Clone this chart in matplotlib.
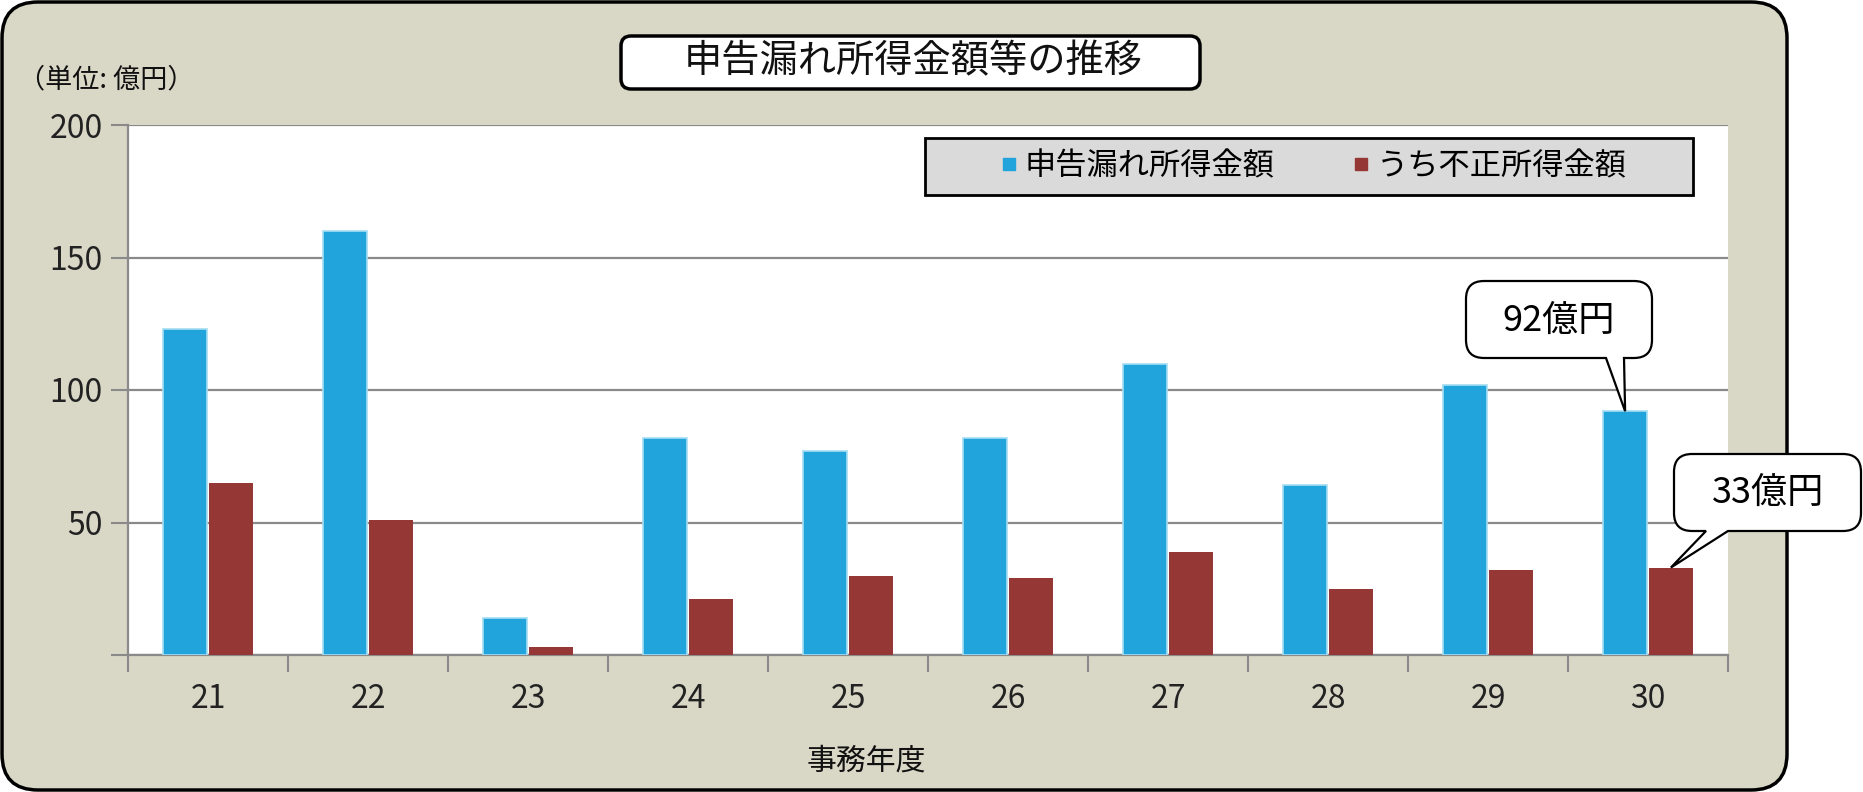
import matplotlib
matplotlib.use('Agg')
import matplotlib.pyplot as plt
from matplotlib.path import Path
from matplotlib.patches import PathPatch, Rectangle
from matplotlib.transforms import IdentityTransform
from matplotlib.lines import Line2D
import numpy as np

plt.rcParams['font.family'] = ['Noto Sans CJK JP', 'DejaVu Sans']

# ---------------- data ----------------
years = ['21', '22', '23', '24', '25', '26', '27', '28', '29', '30']
undeclared_income = [123, 160, 14, 82, 77, 82, 110, 64, 102, 92]
fraudulent_income = [65, 51, 3, 21, 30, 29, 39, 25, 32, 33]
series_names = ['申告漏れ所得金額', 'うち不正所得金額']
y_ticks = [0, 50, 100, 150, 200]
y_tick_labels = ['', '50', '100', '150', '200']
title_text = '申告漏れ所得金額等の推移'
unit_text = '（単位: 億円）'
x_label_text = '事務年度'
callout_texts = ['92億円', '33億円']

# ---------------- style ----------------
BLUE = '#21A3DC'
RED = '#943735'
BEIGE = '#D9D7C6'
GRID = '#8A8A8A'

W, H = 1863, 792
fig = plt.figure(figsize=(W / 100, H / 100), dpi=100)
fig.patch.set_facecolor('white')
ID = IdentityTransform()


def to_disp(pts):
    return [(x, H - y) for x, y in pts]


def rounded_path(L, T, R, B, r, wedge=None):
    """Rounded rectangle in top-left pixel coords, optional wedge on bottom edge."""
    v = [(L + r, B)]
    c = [Path.MOVETO]
    if wedge is not None:
        bx0, bx1, tx, ty = wedge
        v += [(bx0, B), (tx, ty), (bx1, B)]
        c += [Path.LINETO] * 3
    v += [(R - r, B), (R, B), (R, B - r), (R, T + r), (R, T), (R - r, T),
          (L + r, T), (L, T), (L, T + r), (L, B - r), (L, B), (L + r, B), (L + r, B)]
    c += [Path.LINETO, Path.CURVE3, Path.CURVE3, Path.LINETO, Path.CURVE3, Path.CURVE3,
          Path.LINETO, Path.CURVE3, Path.CURVE3, Path.LINETO, Path.CURVE3, Path.CURVE3,
          Path.CLOSEPOLY]
    return Path(to_disp(v), c)


# outer rounded background
fig.add_artist(PathPatch(rounded_path(2, 2, 1787, 790, 36), transform=ID,
                         facecolor=BEIGE, edgecolor='black', lw=2.5, zorder=-5))

# axes
ax = fig.add_axes([128 / W, 1 - 655 / H, 1600 / W, 530 / H])
ax.set_facecolor('white')
x = np.arange(len(years))
bw = 0.275
ax.bar(x - 0.143, undeclared_income, width=bw, color=BLUE, edgecolor='#A6DDF3',
       linewidth=1.2, zorder=3)
ax.bar(x + 0.143, fraudulent_income, width=bw, color=RED, edgecolor='none', zorder=3)

ax.set_xlim(-0.5, len(years) - 0.5)
ax.set_ylim(0, 200)
ax.set_yticks(y_ticks)
ax.set_yticklabels(y_tick_labels)
ax.set_xticks(x)
ax.set_xticklabels(years)
ax.set_xticks(np.arange(-0.5, len(years), 1.0), minor=True)
ax.tick_params(axis='x', which='major', length=0, pad=20, labelsize=23, colors='#222222')
ax.tick_params(axis='x', which='minor', length=12, width=1.5, color=GRID, direction='out')
ax.tick_params(axis='y', length=12, width=1.5, color=GRID, direction='out', pad=6,
               labelsize=23, labelcolor='#222222')
ax.grid(axis='y', color=GRID, lw=1.6, zorder=1)
ax.set_axisbelow(True)
for s in ['top', 'right']:
    ax.spines[s].set_visible(False)
for s in ['left', 'bottom']:
    ax.spines[s].set_color(GRID)
    ax.spines[s].set_linewidth(1.6)

# legend
ax.add_patch(Rectangle((925, H - 195), 768, 57, transform=ID, facecolor='#DADADA',
                       edgecolor='black', lw=2, clip_on=False, zorder=6))
handles = [Line2D([], [], marker='s', ls='', color=BLUE, markersize=8),
           Line2D([], [], marker='s', ls='', color=RED, markersize=8)]
leg = ax.legend(handles, series_names, loc='center', bbox_to_anchor=(1314, H - 166),
                bbox_transform=ID, frameon=False, ncol=2, fontsize=22.5,
                handlelength=0.5, handletextpad=0.25, columnspacing=2.5)
leg.set_zorder(7)

# title box
fig.add_artist(PathPatch(rounded_path(621, 36, 1200, 89, 10), transform=ID,
                         facecolor='white', edgecolor='black', lw=2.5, zorder=5))
fig.text(913, H - 62, title_text, transform=ID, ha='center', va='center',
         fontsize=27.5, color='#111111', zorder=6)

# unit label and x label
fig.text(18, H - 80, unit_text, transform=ID, ha='left', va='center',
         fontsize=19.5, color='#111111')
fig.text(866, H - 761, x_label_text, transform=ID, ha='center', va='center',
         fontsize=21.5, color='#111111')

# callouts
last = len(years) - 1
tip1 = ax.transData.transform((x[last] - 0.143, undeclared_income[last]))
tip2 = ax.transData.transform((x[last] + 0.143, fraudulent_income[last]))
tip1 = (tip1[0], H - tip1[1])
tip2 = (tip2[0], H - tip2[1])

fig.add_artist(PathPatch(rounded_path(1466, 281, 1652, 358, 18,
                                      wedge=(1606, 1624, tip1[0], tip1[1])),
                         transform=ID, facecolor='white', edgecolor='black', lw=1.6, zorder=8))
fig.text(1559, H - 321, callout_texts[0], transform=ID, ha='center', va='center',
         fontsize=26, color='black', zorder=9)

fig.add_artist(PathPatch(rounded_path(1674, 454, 1861, 531, 18,
                                      wedge=(1706, 1728, tip2[0], tip2[1])),
                         transform=ID, facecolor='white', edgecolor='black', lw=1.6, zorder=8))
fig.text(1768, H - 493, callout_texts[1], transform=ID, ha='center', va='center',
         fontsize=26, color='black', zorder=9)

fig.savefig('out.png', dpi=100, facecolor=fig.get_facecolor())
